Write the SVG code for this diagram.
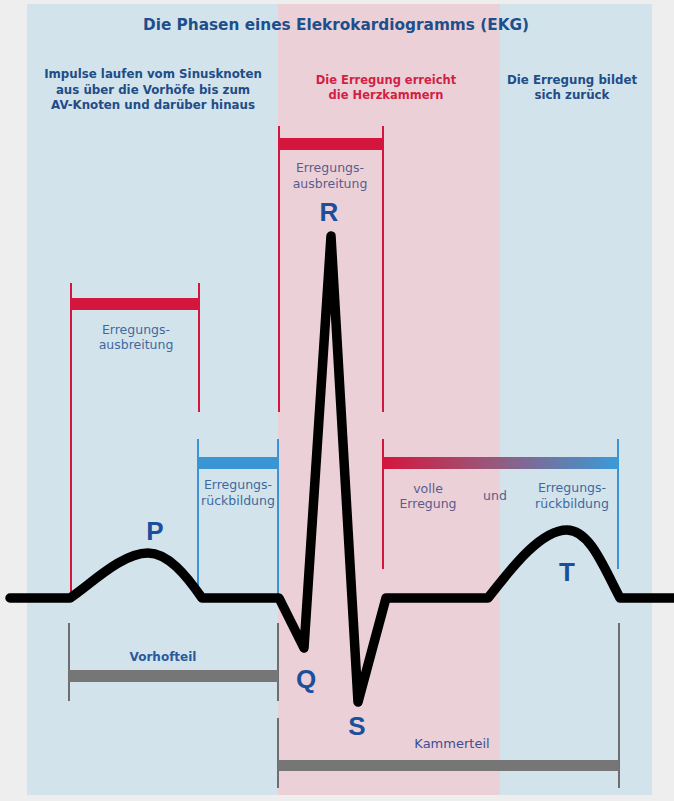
<svg xmlns="http://www.w3.org/2000/svg" width="674" height="801" viewBox="0 0 674 801">
<defs>
<linearGradient id="grad" x1="0" y1="0" x2="1" y2="0">
<stop offset="0" stop-color="#d4163f"/>
<stop offset="0.45" stop-color="#9a5678"/>
<stop offset="1" stop-color="#3a9ad8"/>
</linearGradient>
<style>
.title{font-family:"DejaVu Sans",sans-serif;font-weight:bold;font-size:15.3px;fill:#1d4f8a;text-anchor:middle}
.phase{font-family:"DejaVu Sans",sans-serif;font-weight:bold;font-size:11.8px;fill:#1f4d87;text-anchor:middle}
.phaseR{font-family:"DejaVu Sans",sans-serif;font-weight:bold;font-size:11.5px;fill:#d11f45;text-anchor:middle}
.lbl{font-family:"DejaVu Sans",sans-serif;font-size:12.5px;fill:#3d6a9e;text-anchor:middle}
.lblP{font-family:"DejaVu Sans",sans-serif;font-size:12.5px;fill:#5b5c8c;text-anchor:middle}
.wave{font-family:"Liberation Sans",sans-serif;font-weight:bold;font-size:26px;fill:#1b4f9b;text-anchor:middle}
.part{font-family:"DejaVu Sans",sans-serif;font-size:12px;text-anchor:middle}
.red{stroke:#d4163f;stroke-width:2;fill:none}
.blue{stroke:#3a95d5;stroke-width:2;fill:none}
.gray{stroke:#6e6e6e;stroke-width:2;fill:none}
</style>
</defs>
<rect x="0" y="0" width="674" height="801" fill="#eeeeee"/>
<g id="panels">
<rect x="27" y="4" width="625" height="791" fill="#d3e3ec"/>
<rect x="278" y="4" width="222" height="791" fill="#ecd0d7"/>
</g>
<g id="title"><text class="title" x="336" y="30">Die Phasen eines Elekrokardiogramms (EKG)</text></g>
<g id="phase-left">
<text class="phase" x="153" y="78">Impulse laufen vom Sinusknoten</text>
<text class="phase" x="153" y="94">aus über die Vorhöfe bis zum</text>
<text class="phase" x="153" y="109">AV-Knoten und darüber hinaus</text>
</g>
<g id="phase-middle">
<text class="phaseR" x="386" y="84">Die Erregung erreicht</text>
<text class="phaseR" x="386" y="99">die Herzkammern</text>
</g>
<g id="phase-right">
<text class="phase" x="572" y="84">Die Erregung bildet</text>
<text class="phase" x="572" y="99">sich zurück</text>
</g>
<g id="bracket-p-ausbreitung">
<line class="red" x1="71" y1="283" x2="71" y2="592"/>
<line class="red" x1="199" y1="283" x2="199" y2="412"/>
<rect x="71" y="298" width="128" height="12" fill="#d4163f"/>
<text class="lbl" x="136" y="334">Erregungs-</text>
<text class="lbl" x="136" y="349">ausbreitung</text>
</g>
<g id="bracket-p-rueckbildung">
<line class="blue" x1="198" y1="439" x2="198" y2="596"/>
<line class="blue" x1="278" y1="439" x2="278" y2="596"/>
<rect x="198" y="457" width="80" height="12" fill="#3a95d5"/>
<text class="lbl" x="238" y="489">Erregungs-</text>
<text class="lbl" x="238" y="505">rückbildung</text>
</g>
<g id="bracket-qrs">
<line class="red" x1="279" y1="126" x2="279" y2="412"/>
<line class="red" x1="383" y1="126" x2="383" y2="412"/>
<rect x="279" y="138" width="104" height="12" fill="#d4163f"/>
<text class="lblP" x="330" y="172">Erregungs-</text>
<text class="lblP" x="330" y="188">ausbreitung</text>
</g>
<g id="bracket-st">
<line class="red" x1="383" y1="439" x2="383" y2="569"/>
<line class="blue" x1="618" y1="439" x2="618" y2="569"/>
<rect x="383" y="457" width="235" height="12" fill="url(#grad)"/>
<text class="lblP" x="428" y="493">volle</text>
<text class="lblP" x="428" y="508">Erregung</text>
<text class="lblP" x="495" y="500">und</text>
<text class="lbl" x="572" y="492">Erregungs-</text>
<text class="lbl" x="572" y="508">rückbildung</text>
</g>
<g id="ecg-curve">
<path d="M10 598 L70 598 C92 583 122 553 148 553 C168 553 186 575 202 598 L279 598 L304 648 L331 236 L358 702 L386 598 L488 598 C510 570 540 530 567 530 C590 530 604 568 620 598 L674 598" fill="none" stroke="#000" stroke-width="9.5" stroke-linejoin="round" stroke-linecap="round"/>
</g>
<g id="wave-labels">
<text class="wave" x="155" y="540">P</text>
<text class="wave" x="329" y="221">R</text>
<text class="wave" x="306" y="688">Q</text>
<text class="wave" x="357" y="735">S</text>
<text class="wave" x="567" y="581">T</text>
</g>
<g id="vorhofteil">
<line class="gray" x1="69" y1="623" x2="69" y2="701"/>
<line class="gray" x1="278" y1="623" x2="278" y2="701"/>
<rect x="69" y="670" width="209" height="12" fill="#767676"/>
<text class="part" x="163" y="661" fill="#2a5a9c" font-weight="bold">Vorhofteil</text>
</g>
<g id="kammerteil">
<line class="gray" x1="278" y1="718" x2="278" y2="788"/>
<line class="gray" x1="619" y1="623" x2="619" y2="788"/>
<rect x="278" y="760" width="341" height="11" fill="#767676"/>
<text class="part" x="452" y="748" fill="#3b4f90" style="font-size:13px">Kammerteil</text>
</g>
<g id="connectors"/>
</svg>
